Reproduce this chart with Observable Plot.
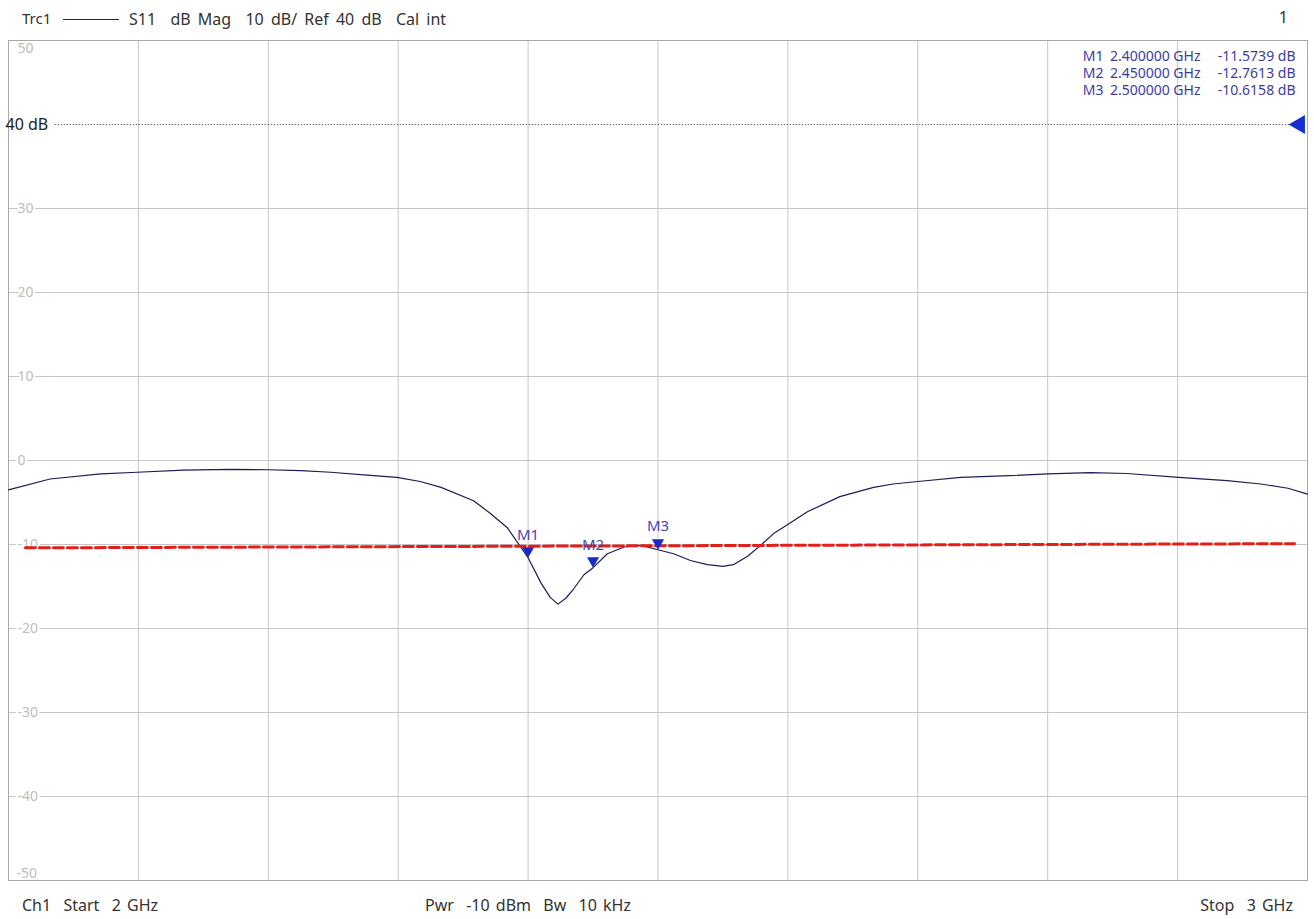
<!DOCTYPE html>
<html><head><meta charset="utf-8">
<script src="https://cdn.jsdelivr.net/npm/d3@7"></script>
<script src="https://cdn.jsdelivr.net/npm/@observablehq/plot@0.6"></script>
<style>
html,body{margin:0;padding:0;background:#fff;overflow:hidden;width:1314px;height:919px;font-family:"Noto Sans",sans-serif;}
#wrap{position:relative;width:1314px;height:919px;}
.hdr{position:absolute;font-size:16px;color:#333;white-space:pre;line-height:1;}
.top{word-spacing:3px;}
.bot{word-spacing:2px;}
#chart{position:absolute;left:0;top:38px;}
</style></head><body>
<div id="wrap">
 <div class="hdr" style="left:22px;top:11px;font-size:15px">Trc1</div>
 <div style="position:absolute;left:63px;top:19px;width:56px;height:0;border-top:1.5px solid #1c1c60"></div>
 <div class="hdr top" style="left:129px;top:11px">S11  dB Mag  10 dB/ Ref 40 dB  Cal int</div>
 <div class="hdr" style="right:26px;top:9px">1</div>
 <div id="chart"></div>
 <div class="hdr bot" style="left:22px;top:897px">Ch1  Start  2 GHz</div>
 <div class="hdr bot" style="left:425px;top:897px">Pwr  -10 dBm  Bw  10 kHz</div>
 <div class="hdr bot" style="right:21px;top:897px">Stop  3 GHz</div>
</div>
<script>
// Trace S11 (frequency in GHz, magnitude in dB)
const freqGHz = [2.000,2.032,2.071,2.099,2.135,2.171,2.200,2.225,2.248,2.276,2.299,2.317,2.333,2.358,2.371,2.384,2.400,2.410,2.417,2.423,2.429,2.435,2.443,2.450,2.461,2.474,2.487,2.500,2.512,2.525,2.538,2.550,2.558,2.569,2.579,2.589,2.602,2.615,2.640,2.666,2.681,2.700,2.733,2.771,2.800,2.833,2.861,2.901,2.938,2.964,2.985,3.000];
const s11dB   = [-3.5,-2.2,-1.6,-1.4,-1.15,-1.05,-1.1,-1.2,-1.4,-1.75,-2.0,-2.5,-3.2,-4.8,-6.3,-8.0,-11.57,-14.6,-16.3,-17.1,-16.4,-15.3,-13.6,-12.76,-11.1,-10.3,-10.1,-10.62,-11.1,-11.9,-12.4,-12.6,-12.4,-11.4,-10.1,-8.7,-7.4,-6.1,-4.3,-3.2,-2.8,-2.5,-2.0,-1.8,-1.6,-1.45,-1.55,-2.0,-2.4,-2.8,-3.3,-4.0];

// Markers
const markerNames = ["M1","M2","M3"];
const markerFreq  = [2.40, 2.45, 2.50];
const markerDb    = [-11.5739, -12.7613, -10.6158];

// Limit line (red dashed)
const limitFreq = [2.013, 2.990];
const limitDb   = [-10.4, -9.9];

// Reference level
const refLevel = 40;
const refSpan  = [2.036, 2.987];

// Grid / tick values
const xGrid = [2.1,2.2,2.3,2.4,2.5,2.6,2.7,2.8,2.9];
const yGrid = [30,20,10,0,-10,-20,-30,-40];
const yLabelsMid = [30,20,10,0,-10,-20,-30,-40];
const yLabelTop = [50];
const yLabelBottom = [-50];

const trace = freqGHz.map((f,i)=>({f, db: s11dB[i]}));
const markers = markerNames.map((n,i)=>({n, f: markerFreq[i], db: markerDb[i]}));
const limit = limitFreq.map((f,i)=>({f, db: limitDb[i]}));

const font = '"Noto Sans", sans-serif';
const blueText = "#3c3ca0";
const tableOpts = {frameAnchor: "top-right", dy: 8, lineAnchor: "top", lineHeight: 1.22, textAnchor: "end", fill: blueText, fontSize: 14};

const chart = Plot.plot({
  width: 1314, height: 846,
  marginTop: 2, marginBottom: 4, marginLeft: 8, marginRight: 7,
  style: {fontFamily: font, background: "#fff"},
  x: {domain: [2, 3], axis: null},
  y: {domain: [-50, 50], axis: null},
  marks: [
    Plot.ruleX(xGrid, {stroke: "#c6c6c6", strokeWidth: 1}),
    Plot.ruleY(yGrid, {stroke: "#c6c6c6", strokeWidth: 1}),
    Plot.frame({stroke: "#a8a8a8"}),
    Plot.text(yLabelsMid, {y: d=>d, text: d=>String(d), frameAnchor: "left", dx: 9, textAnchor: "start", fill: "#bdbdbd", stroke: "#fff", strokeWidth: 4, fontSize: 14}),
    Plot.text(yLabelTop, {y: d=>d, text: d=>String(d), frameAnchor: "left", dx: 9, dy: 8, textAnchor: "start", fill: "#bdbdbd", fontSize: 14}),
    Plot.text(yLabelBottom, {y: d=>d, text: d=>String(d), frameAnchor: "left", dx: 8, dy: -7, textAnchor: "start", fill: "#bdbdbd", fontSize: 14}),
    Plot.ruleY([refLevel], {x1: refSpan[0], x2: refSpan[1], stroke: "#333", strokeDasharray: "1,2", strokeWidth: 1}),
    Plot.text([refLevel], {y: d=>d, text: d=>`${d} dB`, frameAnchor: "left", dx: -3, textAnchor: "start", fill: "#222", fontSize: 16}),
    Plot.dot([refLevel], {x: 3, y: d=>d, symbol: "triangle", rotate: -90, r: 7, fill: "#1530d0", dx: -8}),
    Plot.line(trace, {x: "f", y: "db", stroke: "#1c1c58", strokeWidth: 1.2}),
    Plot.line(limit, {x: "f", y: "db", stroke: "#e41e1a", strokeWidth: 3, strokeDasharray: "10,4"}),
    Plot.dot(markers, {x: "f", y: "db", symbol: "triangle", rotate: 180, r: 4.5, fill: "#1a2ac8", dy: -7}),
    Plot.text(markers, {x: "f", y: "db", text: "n", dy: -23, fill: "#4646b0", fontSize: 15}),
    Plot.text([markerNames.join("\n")], {text: d=>d, ...tableOpts, dx: -204}),
    Plot.text([markerFreq.map(f=>f.toFixed(6)+" GHz").join("\n")], {text: d=>d, ...tableOpts, dx: -107}),
    Plot.text([markerDb.map(v=>v.toFixed(4)+" dB").join("\n")], {text: d=>d, ...tableOpts, dx: -12})
  ]
});
document.getElementById("chart").appendChild(chart);
</script>
</body></html>
